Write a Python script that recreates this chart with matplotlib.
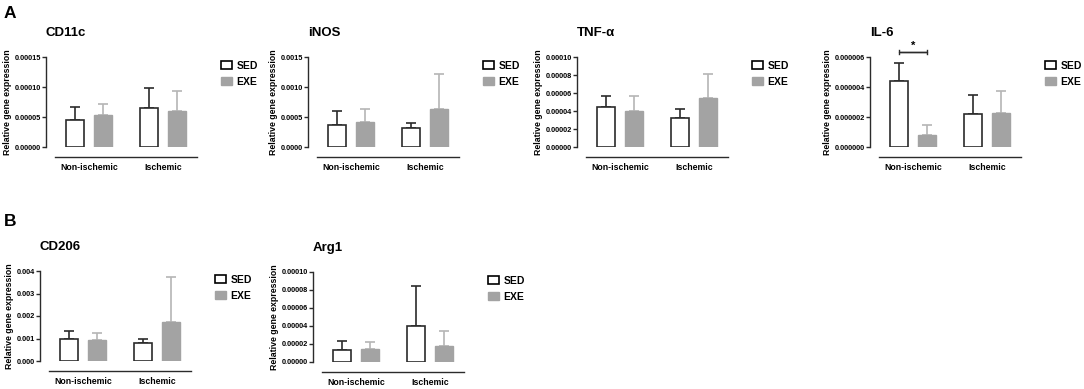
import matplotlib
matplotlib.use("Agg")
import matplotlib.pyplot as plt
from matplotlib.patches import Patch

plt.rcParams["font.family"] = ["Liberation Sans", "DejaVu Sans"]
plt.rcParams["font.weight"] = "bold"

W, H = 1084, 389

groups = ["Non-ischemic", "Ischemic"]
series = ["SED", "EXE"]

# means and SEM (upper error only), [Non-ischemic, Ischemic]
cd11c_sed = [4.5e-5, 6.5e-5]
cd11c_sed_err = [2.1e-5, 3.3e-5]
cd11c_exe = [5.4e-5, 6.0e-5]
cd11c_exe_err = [1.7e-5, 3.4e-5]

inos_sed = [3.7e-4, 3.1e-4]
inos_sed_err = [2.3e-4, 0.9e-4]
inos_exe = [4.2e-4, 6.3e-4]
inos_exe_err = [2.2e-4, 5.8e-4]

tnf_sed = [4.4e-5, 3.2e-5]
tnf_sed_err = [1.3e-5, 1.0e-5]
tnf_exe = [4.0e-5, 5.4e-5]
tnf_exe_err = [1.7e-5, 2.7e-5]

il6_sed = [4.4e-6, 2.2e-6]
il6_sed_err = [1.2e-6, 1.3e-6]
il6_exe = [0.82e-6, 2.25e-6]
il6_exe_err = [0.64e-6, 1.5e-6]

cd206_sed = [0.98e-3, 0.78e-3]
cd206_sed_err = [0.34e-3, 0.19e-3]
cd206_exe = [0.92e-3, 1.73e-3]
cd206_exe_err = [0.31e-3, 1.99e-3]

arg1_sed = [1.3e-5, 4.0e-5]
arg1_sed_err = [1.0e-5, 4.5e-5]
arg1_exe = [1.5e-5, 1.75e-5]
arg1_exe_err = [0.75e-5, 1.7e-5]

# title, sed, sed_err, exe, exe_err, ymax, step, decimals, (left px, top px)
panels = [
    ("CD11c", cd11c_sed, cd11c_sed_err, cd11c_exe, cd11c_exe_err, 0.00015, 0.00005, 5, (46, 57)),
    ("iNOS", inos_sed, inos_sed_err, inos_exe, inos_exe_err, 0.0015, 0.0005, 4, (308, 57)),
    ("TNF-α", tnf_sed, tnf_sed_err, tnf_exe, tnf_exe_err, 0.00010, 0.00002, 5, (577, 57)),
    ("IL-6", il6_sed, il6_sed_err, il6_exe, il6_exe_err, 0.000006, 0.000002, 6, (870, 57)),
    ("CD206", cd206_sed, cd206_sed_err, cd206_exe, cd206_exe_err, 0.004, 0.001, 3, (40, 271)),
    ("Arg1", arg1_sed, arg1_sed_err, arg1_exe, arg1_exe_err, 0.00010, 0.00002, 5, (313, 272)),
]

sed_x = [0, 2.65]
exe_x = [1, 3.65]
bar_w = 0.64
ax_w, ax_h = 151, 90

dark = "#2b2b2b"
grey_fill = "#a3a3a3"
grey_err = "#b5b5b5"

fig = plt.figure(figsize=(W / 100, H / 100), dpi=100)

for title, sed, sed_err, exe, exe_err, ymax, step, dec, (lx, ty) in panels:
    ax = fig.add_axes([lx / W, 1 - (ty + ax_h) / H, ax_w / W, ax_h / H])
    ax.bar(sed_x, sed, width=bar_w, facecolor="white", edgecolor=dark, linewidth=1.2, zorder=3)
    ax.bar(exe_x, exe, width=bar_w, facecolor=grey_fill, edgecolor=grey_fill, linewidth=1.0, zorder=3)
    ax.errorbar(sed_x, sed, yerr=[[0, 0], sed_err], fmt="none", ecolor=dark,
                elinewidth=1.2, capsize=3.5, capthick=1.2, zorder=2)
    ax.errorbar(exe_x, exe, yerr=[[0, 0], exe_err], fmt="none", ecolor=grey_err,
                elinewidth=1.2, capsize=3.5, capthick=1.2, zorder=2)

    ax.set_xlim(-1.04, 4.36)
    ax.set_ylim(0, ymax)
    ticks = [i * step for i in range(int(round(ymax / step)) + 1)]
    ax.tick_params(axis="y", length=3, width=1, color=dark, pad=0.8, labelsize=5.3)
    ax.set_yticks(ticks, [f"{t:.{dec}f}" for t in ticks])

    ax.tick_params(axis="x", length=0, pad=4, labelsize=6.3)
    ax.set_xticks([0.5, 3.15], groups)
    for lab in ax.get_xticklabels():
        lab.set_fontstyle("italic")
        lab.set_fontweight("bold")

    for s in ["top", "right"]:
        ax.spines[s].set_visible(False)
    ax.spines["left"].set_color(dark)
    ax.spines["left"].set_linewidth(1)
    ax.spines["bottom"].set_position(("outward", 7.2))
    ax.spines["bottom"].set_bounds(-0.71, 4.36)
    ax.spines["bottom"].set_color(dark)
    ax.spines["bottom"].set_linewidth(1)

    ax.set_ylabel("Relative gene expression", fontsize=6.3, fontweight="bold", labelpad=2)
    ax.text(0, 1 + 24 / ax_h, title, transform=ax.transAxes, fontsize=9.5,
            fontweight="bold", ha="left", va="center")

    handles = [Patch(facecolor="white", edgecolor="black", linewidth=1.2),
               Patch(facecolor=grey_fill, edgecolor=grey_fill)]
    ax.legend(handles, series, loc="upper left", bbox_to_anchor=(175 / ax_w, 1 - 4 / ax_h),
              frameon=False, prop={"size": 7.5, "weight": "bold"}, handlelength=1.1,
              handleheight=0.8, handletextpad=0.4, labelspacing=0.55, borderaxespad=0,
              borderpad=0)

    if title == "IL-6":
        yb = 6.35e-6
        ax.plot([sed_x[0], sed_x[0], exe_x[0], exe_x[0]], [yb - 0.12e-6, yb, yb, yb - 0.12e-6],
                color=dark, lw=1, clip_on=False)
        ax.plot([sed_x[0], sed_x[0], exe_x[0], exe_x[0]], [yb + 0.12e-6, yb, yb, yb + 0.12e-6],
                color=dark, lw=1, clip_on=False)
        ax.text((sed_x[0] + exe_x[0]) / 2, yb + 0.05e-6, "*", ha="center", va="bottom",
                fontsize=8, fontweight="bold")

fig.text(4 / W, 1 - 13 / H, "A", fontsize=12.5, fontweight="bold", ha="left", va="center")
fig.text(4 / W, 1 - 222 / H, "B", fontsize=12.5, fontweight="bold", ha="left", va="center")

fig.savefig("out.png", dpi=100)
